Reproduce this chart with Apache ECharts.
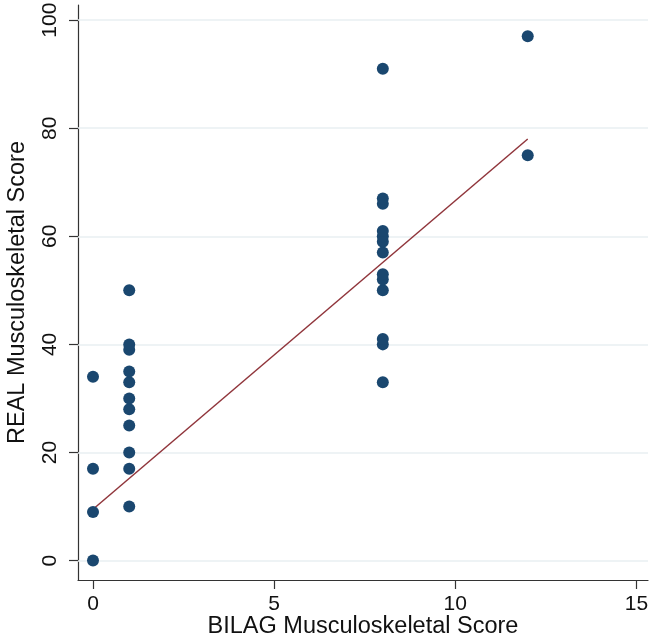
<!DOCTYPE html>
<html>
<head>
<meta charset="utf-8">
<script src="https://cdn.jsdelivr.net/npm/echarts@6/dist/echarts.min.js"></script>
<style>
html,body{margin:0;padding:0;background:#fff;}
#chart{width:650px;height:636px;}
</style>
</head>
<body>
<div id="chart"></div>
<script>
// BILAG score groups and the REAL scores observed at each
var bilagX0 = 0;
var realAtX0 = [0, 9, 17, 34];
var bilagX1 = 1;
var realAtX1 = [10, 17, 20, 25, 28, 30, 33, 35, 39, 40, 50];
var bilagX8 = 8;
var realAtX8 = [33, 40, 41, 50, 52, 53, 57, 59, 60, 61, 66, 67, 91];
var bilagX12 = 12;
var realAtX12 = [75, 97];

// fitted line endpoints
var fitX = [0, 12];
var fitY = [9.5, 78];

// tick labels
var xTicks = [0, 5, 10, 15];
var yTicks = [0, 20, 40, 60, 80, 100];

var points = [];
[[bilagX0, realAtX0], [bilagX1, realAtX1], [bilagX8, realAtX8], [bilagX12, realAtX12]].forEach(function (g) {
  g[1].forEach(function (v) { points.push([g[0], v]); });
});
var fitData = fitX.map(function (x, i) { return [x, fitY[i]]; });

var font = 'Liberation Sans, Arial, sans-serif';
var chart = echarts.init(document.getElementById('chart'), null, {renderer: 'canvas'});
chart.setOption({
  animation: false,
  backgroundColor: '#ffffff',
  grid: {left: 78, top: 5, right: 2, bottom: 56, containLabel: false, outerBoundsMode: 'none'},
  xAxis: {
    type: 'value',
    min: -0.414, max: 15.32,
    name: 'BILAG Musculoskeletal Score',
    nameLocation: 'middle',
    nameGap: 35,
    nameMoveOverlap: false,
    nameTextStyle: {fontFamily: font, fontSize: 23.5, color: '#111'},
    axisLine: {show: true, onZero: false, lineStyle: {color: '#333', width: 1.2}},
    axisTick: {show: true, length: 9, customValues: xTicks, lineStyle: {color: '#333', width: 1.2}},
    axisLabel: {customValues: xTicks, fontFamily: font, fontSize: 21, color: '#111', margin: 14},
    splitLine: {show: false}
  },
  yAxis: {
    type: 'value',
    min: -3.6, max: 102.8,
    name: 'REAL Musculoskeletal Score',
    nameLocation: 'middle',
    nameGap: 48,
    nameMoveOverlap: false,
    nameTextStyle: {fontFamily: font, fontSize: 23.5, color: '#111'},
    axisLine: {show: true, onZero: false, lineStyle: {color: '#333', width: 1.2}},
    axisTick: {show: true, length: 9, customValues: yTicks, lineStyle: {color: '#333', width: 1.2}},
    axisLabel: {customValues: yTicks, rotate: 90, fontFamily: font, fontSize: 21, color: '#111', margin: 17},
    splitLine: {show: false}
  },
  series: [
    {
      type: 'line',
      data: fitData,
      symbol: 'none',
      z: 2,
      lineStyle: {color: '#90353b', width: 1.5},
      markLine: {
        silent: true,
        symbol: 'none',
        z: 1,
        label: {show: false},
        lineStyle: {color: '#e8eff2', width: 1.5, type: 'solid'},
        data: yTicks.map(function (v) { return {yAxis: v}; })
      }
    },
    {
      type: 'scatter',
      data: points,
      symbol: 'circle',
      symbolSize: 12,
      z: 3,
      itemStyle: {color: '#1a476f', opacity: 1}
    }
  ]
});
</script>
</body>
</html>
